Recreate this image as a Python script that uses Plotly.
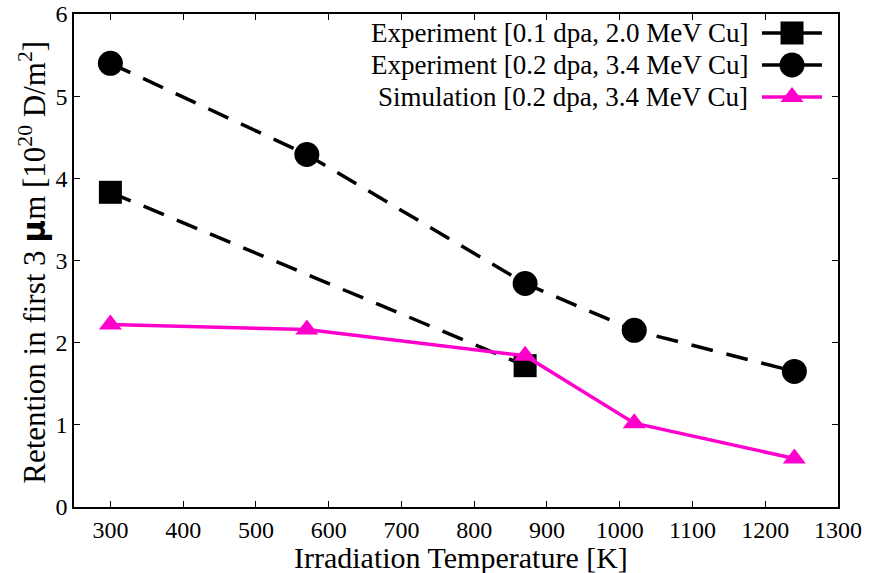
import plotly.graph_objects as go

# Data
temp_exp01 = [300, 870]
ret_exp01 = [3.83, 1.72]

temp_exp02 = [300, 570, 870, 1020, 1240]
ret_exp02 = [5.40, 4.29, 2.72, 2.15, 1.65]

temp_sim = [300, 570, 870, 1020, 1240]
ret_sim = [2.22, 2.16, 1.84, 1.02, 0.59]

names = ["Experiment [0.1 dpa, 2.0 MeV Cu]",
         "Experiment [0.2 dpa, 3.4 MeV Cu]",
         "Simulation [0.2 dpa, 3.4 MeV Cu]"]
x_ticks = [300, 400, 500, 600, 700, 800, 900, 1000, 1100, 1200, 1300]
y_ticks = [0, 1, 2, 3, 4, 5, 6]
x_title = "Irradiation Temperature [K]"
y_title = ("Retention in first 3 <span style=\"font-family:DejaVu Sans; font-weight:bold\">μ</span>m "
           "[10<sup>20</sup> D/m<sup>2</sup>]")

MAG = "#ff00cc"
FONT = "Liberation Serif, Times New Roman, serif"
DASH = "22px,14px"

fig = go.Figure()
fig.add_trace(go.Scatter(x=temp_exp01, y=ret_exp01, mode="lines+markers",
                         line=dict(color="black", width=3.5, dash=DASH),
                         marker=dict(symbol="square", size=23, color="black"),
                         name=names[0], showlegend=False))
fig.add_trace(go.Scatter(x=temp_exp02, y=ret_exp02, mode="lines+markers",
                         line=dict(color="black", width=3.5, dash=DASH),
                         marker=dict(symbol="circle", size=25, color="black"),
                         name=names[1], showlegend=False))
fig.add_trace(go.Scatter(x=temp_sim, y=ret_sim, mode="lines+markers",
                         line=dict(color=MAG, width=3.5),
                         marker=dict(symbol="triangle-up", size=20, color=MAG),
                         name=names[2], showlegend=False))

# Legend (symbols on the right of the text), drawn on an overlay axis in plot fractions
leg_y = [0.9615, 0.8966, 0.8316]
leg_x0, leg_xm, leg_x1 = 0.9005, 0.9398, 0.979
styles = [
    dict(line=dict(color="black", width=3.5), marker=dict(symbol="square", size=23, color="black")),
    dict(line=dict(color="black", width=3.5), marker=dict(symbol="circle", size=25, color="black")),
    dict(line=dict(color=MAG, width=3.5), marker=dict(symbol="triangle-up", size=20, color=MAG)),
]
for yy, st, nm in zip(leg_y, styles, names):
    fig.add_trace(go.Scatter(x=[leg_x0, leg_x1], y=[yy, yy], mode="lines",
                             line=st["line"], xaxis="x2", yaxis="y2",
                             showlegend=False, hoverinfo="skip"))
    fig.add_trace(go.Scatter(x=[leg_xm], y=[yy], mode="markers",
                             marker=st["marker"], xaxis="x2", yaxis="y2",
                             showlegend=False, hoverinfo="skip"))
    fig.add_annotation(x=0.885, y=yy, xref="paper", yref="paper",
                       text=nm, showarrow=False, xanchor="right", yanchor="middle",
                       font=dict(family=FONT, size=27, color="black"))

# Axis titles as annotations for exact placement
fig.add_annotation(x=0.506, y=-0.102, xref="paper", yref="paper", text=x_title,
                   showarrow=False, xanchor="center", yanchor="middle",
                   font=dict(family=FONT, size=30, color="black"))
fig.add_annotation(x=-0.054, y=0.497, xref="paper", yref="paper", text=y_title,
                   showarrow=False, xanchor="center", yanchor="middle", textangle=-90,
                   font=dict(family=FONT, size=31, color="black"))

axis_common = dict(showline=True, linecolor="black", linewidth=1.5, mirror="ticks",
                   ticks="inside", ticklen=6, tickwidth=1, tickcolor="black",
                   showgrid=False, zeroline=False, automargin=False,
                   tickfont=dict(family=FONT, size=24, color="black"))

fig.update_layout(
    width=873, height=573,
    margin=dict(l=74, r=35, t=14, b=66, autoexpand=False),
    plot_bgcolor="white", paper_bgcolor="white",
    font=dict(family=FONT, color="black"),
    xaxis=dict(range=[250, 1300], tickvals=x_ticks, **axis_common),
    yaxis=dict(range=[0, 6], tickvals=y_ticks, **axis_common),
    xaxis2=dict(overlaying="x", range=[0, 1], visible=False, fixedrange=True),
    yaxis2=dict(overlaying="y", range=[0, 1], visible=False, fixedrange=True),
)

fig.write_html("out.html")
